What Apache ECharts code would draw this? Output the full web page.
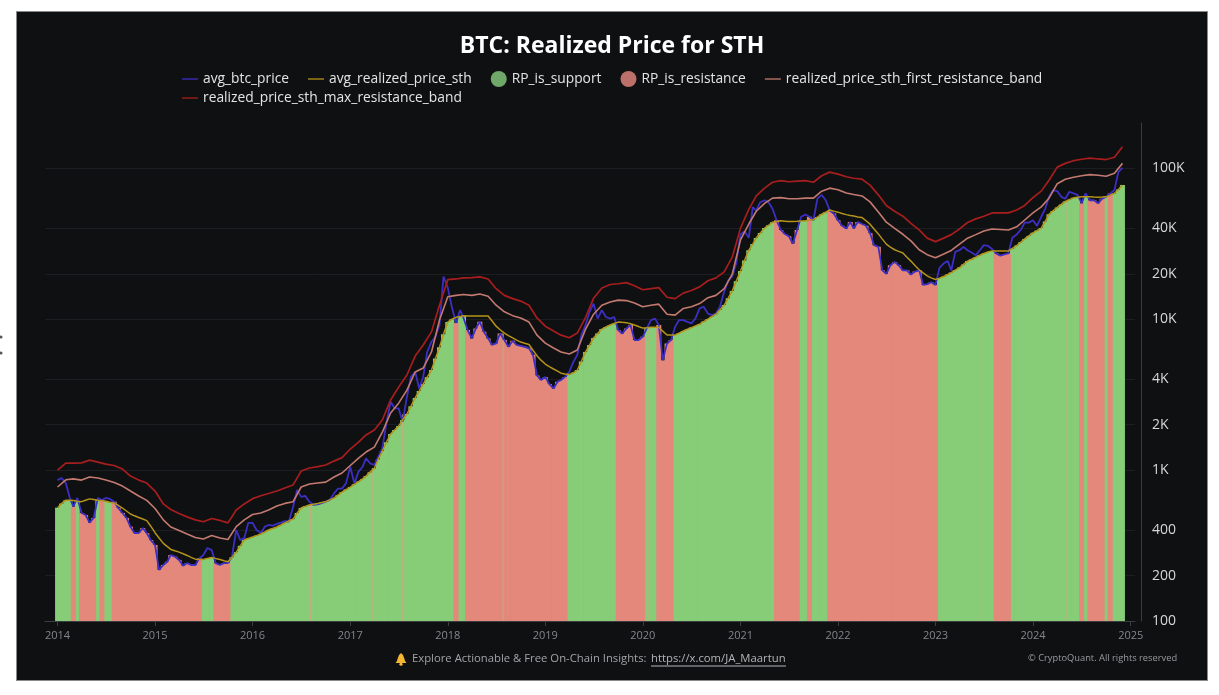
<!DOCTYPE html>
<html>
<head>
<meta charset="utf-8">
<title>BTC: Realized Price for STH</title>
<script src="https://cdn.jsdelivr.net/npm/echarts@6/dist/echarts.min.js"></script>
<style>
  html, body { margin: 0; padding: 0; background: #fff; overflow: hidden; }
  #panel { position: absolute; left: 16px; top: 11px; width: 1190px; height: 668px; background: #0f1012; border: 1px solid #8a8a8a; }
  #chart { position: absolute; left: 0; top: 0; width: 1219px; height: 695px; }
</style>
</head>
<body>
<div id="panel"></div>
<div id="chart"></div>
<script type="text/javascript">
  // one value per half month, 1st and 16th, starting 2014-01-01
  var btcPrice = [
    859,887,821,654,572,654,520,504,449,482,
    654,634,654,644,618,561,520,482,422,383,
    383,413,383,344,319,218,235,247,274,267,
    254,232,242,235,235,260,274,305,295,242,
    235,242,242,267,401,344,354,447,447,401,
    383,422,433,428,440,449,459,456,572,738,
    665,675,618,588,594,604,618,634,701,755,
    755,817,1053,817,977,1053,1196,1110,1082,1228,
    1394,2040,2840,2570,2570,2090,3060,4150,4490,3480,
    4150,6070,7100,7650,9170,19200,16200,12100,9450,11500,
    10200,8490,7470,8700,9620,8270,7470,6760,6920,8050,
    7280,6570,7200,6760,6670,6570,6420,5810,4240,3960,
    4150,3720,3480,3850,3960,4150,4490,5200,5810,7850,
    9170,11200,12700,10100,11500,10350,10100,10350,8490,8050,
    8700,9170,7280,7280,7650,8700,9880,10100,9170,5350,
    6920,7280,8900,9880,9880,9620,9390,10100,11800,12100,
    10900,10650,10900,12100,15200,18100,19200,23500,36500,38400,
    34700,55300,52500,59700,61500,59700,54000,45300,39100,36800,
    35500,31800,39100,47800,49500,47800,45300,63000,66700,61500,
    52500,50300,45300,41700,40000,44100,40000,44100,42800,41700,
    37200,31000,30200,21100,20000,22800,24000,22800,21100,21100,
    19800,20700,21100,16900,17100,17600,16900,21900,23500,24300,
    21100,28000,28700,30200,28700,27700,26600,28700,31000,30700,
    29200,27300,26400,26900,27300,34700,36500,39100,43700,43700,
    45300,41600,47800,54000,64800,71800,70700,64800,63000,70000,
    68300,66700,58800,68300,61500,61500,58800,63000,64800,68300,
    71800,95000,101000
  ];
  var realizedPrice = [
    564,600,632,631,628,623,618,632,645,639,
    632,627,622,613,604,585,561,536,512,498,
    485,474,463,425,385,355,327,311,298,292,
    286,279,272,264,257,256,256,260,264,260,
    256,251,247,265,286,315,344,352,360,368,
    377,389,401,410,420,433,447,460,474,520,
    561,575,588,595,602,610,618,635,654,684,
    715,743,772,805,840,875,913,970,1030,1180,
    1337,1530,1735,1845,1960,2150,2355,2650,3010,3340,
    3720,4130,4610,5500,6530,7950,9580,10000,10300,10450,
    10570,10530,10500,10500,10500,10500,10500,9730,9000,8520,
    8100,7800,7520,7280,7060,6930,6800,6230,5730,5360,
    5050,4860,4680,4530,4390,4340,4300,4420,4610,5250,
    6080,6760,7520,8060,8610,8900,9170,9380,9580,9540,
    9500,9340,9170,8950,8740,8800,8870,8870,8870,8340,
    7860,7860,7860,8100,8360,8580,8810,9040,9280,9650,
    10030,10400,10800,11550,12430,13800,15370,17900,20870,24500,
    28700,31500,34600,37300,40200,42000,44000,44500,45000,44700,
    44400,44550,44700,44850,45000,45300,45700,47600,49700,51300,
    53000,52100,51300,50300,49400,48800,48300,47700,47200,45000,
    42700,39700,36800,34000,31500,30100,28900,28200,27500,25800,
    24300,22700,21300,20300,19400,18800,18350,18750,19200,19800,
    20400,21200,22000,23100,24300,25000,25800,26600,27300,27900,
    28400,28400,28400,28400,28400,29500,30800,32400,34100,35700,
    37400,38700,40200,44500,49700,52300,55100,57700,60400,62100,
    63800,64400,65000,65000,65000,64700,64500,64600,64800,66300,
    68300,72500,77500
  ];
  // bands are read once a month, on the 1st
  var firstBand = [
    773,863,875,859,900,886,859,827,784,727,674,630,
    557,468,420,398,377,358,350,369,355,347,422,468,
    508,520,544,579,602,618,773,809,821,833,900,957,
    1073,1202,1318,1422,1785,2390,2780,3395,4470,4750,6070,9880,
    14100,14400,14600,14400,14700,14200,12400,11200,10570,10200,9580,7850,
    6950,6450,6070,5890,6250,8610,10800,12400,13000,13400,13300,12800,
    12100,12400,12600,10800,10650,11800,12100,12700,13900,14400,15950,19900,
    33600,42800,52000,58600,63500,64000,62900,62900,63500,63500,70700,74000,
    72300,68800,67200,65700,60000,51500,44000,40100,36600,33100,28900,26800,
    25600,27100,28600,31500,34500,36400,38500,39700,39400,39100,41000,45500,
    50700,55600,63500,79200,84800,87400,89400,91000,90100,88800,92900,108000
  ];
  var maxBand = [
    1000,1113,1113,1118,1165,1130,1097,1073,1017,914,859,821,
    727,597,548,516,490,468,455,478,464,447,544,597,
    647,677,700,727,761,798,986,1033,1056,1082,1148,1210,
    1380,1535,1710,1845,2150,2920,3550,4270,5700,6760,8250,12400,
    18300,18500,18800,18900,19100,18500,15950,14400,13700,13200,12400,10200,
    9000,8360,7850,7540,8100,10300,13800,16100,17000,17200,17500,16700,
    15700,15950,16200,14000,13700,14900,15500,16400,18000,18800,20600,25800,
    40200,53500,65700,74000,81000,83000,81600,82300,83000,81000,89400,94500,
    91600,88100,86100,84800,77500,66800,56800,52000,48200,43200,39100,34500,
    32700,34500,36400,39700,43800,46300,48200,50700,50700,50700,53000,56800,
    64000,70700,83500,102000,108000,112500,115000,117000,115500,114500,118500,139000
  ];
  // first and last half month where the price sits under the realized price
  var resistanceSpans = [
    ['2014-03-01','2014-03-01'], ['2014-04-01','2014-05-16'], ['2014-06-16','2014-06-16'],
    ['2014-08-01','2015-06-16'], ['2015-08-16','2015-10-01'], ['2018-02-01','2018-02-01'],
    ['2018-03-16','2019-03-16'], ['2019-10-01','2020-01-01'], ['2020-03-01','2020-04-16'],
    ['2021-05-16','2021-08-01'], ['2021-09-16','2021-09-16'], ['2021-12-01','2023-01-01'],
    ['2023-08-16','2023-10-01'], ['2024-07-01','2024-07-01'], ['2024-08-01','2024-09-16'],
    ['2024-10-16','2024-10-16']
  ];
  // single day flips that show as hairlines inside a long run
  var hairlineDates = ['2016-08-13','2017-04-03','2017-07-24','2020-01-28','2023-06-23','2024-05-11'];
  var hairlineValues = [588,1030,2350,8740,25800,60400];
  var greenHairlineDates = ['2018-08-04'];
  var greenHairlineValues = [8050];

  var yTicks = [100,200,400,1000,2000,4000,10000,20000,40000,100000];
  var xYears = [2014,2015,2016,2017,2018,2019,2020,2021,2022,2023,2024,2025];

  function pad(n) { return n < 10 ? '0' + n : '' + n; }

  function toTime(dateString) {
    var parts = dateString.split('-');
    return new Date(+parts[0], +parts[1] - 1, +parts[2]).getTime();
  }

  var halfMonths = [];
  var monthStarts = [];
  for (var i = 0; i < btcPrice.length; i++) {
    var m = Math.floor(i / 2);
    var dateString = (2014 + Math.floor(m / 12)) + '-' + pad(m % 12 + 1) + '-' + (i % 2 ? '16' : '01');
    halfMonths.push(dateString);
    if (i % 2 == 0) monthStarts.push(dateString);
  }

  function isResistance(dateString) {
    for (var s = 0; s < resistanceSpans.length; s++) {
      if (dateString >= resistanceSpans[s][0] && dateString <= resistanceSpans[s][1]) return true;
    }
    return false;
  }

  function pairs(dates, values) {
    return values.map(function (v, idx) { return [toTime(dates[idx]), v]; });
  }

  var supportBars = [];
  var resistanceBars = [];
  for (var k = 0; k < halfMonths.length; k++) {
    if (isResistance(halfMonths[k])) {
      resistanceBars.push([toTime(halfMonths[k]), btcPrice[k]]);
    } else {
      supportBars.push([toTime(halfMonths[k]), realizedPrice[k]]);
    }
  }

  var yearTicks = xYears.map(function (y) { return new Date(y, 0, 1).getTime(); });
  var fontName = '"Open Sans", "Noto Sans", sans-serif';
  var legendText = { color: '#e4e4e4', fontSize: 13.8, fontFamily: fontName };
  // thin dash for the line entries, the default line icon puts a dot on it
  var dashIcon = 'path://M0 0H16V1.3H0Z';

  var myChart = echarts.init(document.getElementById('chart'), null, { renderer: 'canvas' });

  function lineSeries(name, dates, values, color, width) {
    return {
      name: name,
      type: 'line',
      data: pairs(dates, values),
      symbol: 'none',
      z: 4,
      lineStyle: { color: color, width: width },
      itemStyle: { color: color }
    };
  }

  var option = {
    animation: false,
    title: {
      text: 'BTC: Realized Price for STH',
      left: 607,
      top: 30,
      textAlign: 'center',
      textStyle: { color: '#ffffff', fontSize: 23, fontWeight: 'bold', fontFamily: fontName }
    },
    legend: [
      {
        left: 177, top: 66, itemWidth: 16, itemHeight: 16, itemGap: 19,
        textStyle: legendText,
        data: [
          { name: 'avg_btc_price', icon: dashIcon },
          { name: 'avg_realized_price_sth', icon: dashIcon },
          { name: 'RP_is_support', icon: 'circle', itemStyle: { color: '#6fa868' } },
          { name: 'RP_is_resistance', icon: 'circle', itemStyle: { color: '#bd6f69' } },
          { name: 'realized_price_sth_first_resistance_band', icon: dashIcon }
        ]
      },
      {
        left: 177, top: 86, itemWidth: 16, itemHeight: 16, itemGap: 19,
        textStyle: legendText,
        data: [{ name: 'realized_price_sth_max_resistance_band', icon: dashIcon }]
      }
    ],
    grid: { left: 45, right: 84, top: 123, bottom: 74 },
    xAxis: {
      type: 'value',
      min: toTime('2013-11-15'),
      max: toTime('2025-01-17'),
      axisLine: { lineStyle: { color: '#3c3d40', width: 1 } },
      axisTick: { length: 5, lineStyle: { color: '#3c3d40' }, customValues: yearTicks },
      axisLabel: {
        color: '#85868a',
        fontSize: 11,
        fontFamily: fontName,
        margin: 9,
        customValues: yearTicks,
        formatter: function (value) { return '' + new Date(value).getFullYear(); }
      },
      splitLine: { show: false }
    },
    yAxis: {
      type: 'log',
      logBase: 10,
      min: 100,
      max: 200000,
      position: 'right',
      offset: 6,
      axisLine: { show: true, lineStyle: { color: '#3c3d40', width: 1 } },
      axisTick: { show: false, customValues: yTicks },
      minorTick: { show: false },
      axisLabel: {
        color: '#d8d8d8',
        fontSize: 14,
        fontFamily: fontName,
        margin: 11,
        customValues: yTicks,
        formatter: function (value) {
          var v = Math.round(value);
          return v >= 1000 ? (v / 1000) + 'K' : '' + v;
        }
      },
      splitLine: { show: true, lineStyle: { color: '#1d1e21', width: 1 } }
    },
    series: [
      {
        name: 'hairlines', type: 'bar', barWidth: 1, barGap: '-100%', z: 3,
        data: pairs(hairlineDates, hairlineValues),
        itemStyle: { color: '#c9a884' }
      },
      {
        name: 'green hairlines', type: 'bar', barWidth: 1, barGap: '-100%', z: 3,
        data: pairs(greenHairlineDates, greenHairlineValues),
        itemStyle: { color: '#a9b87a' }
      },
      {
        name: 'RP_is_support', type: 'bar', barWidth: 5, barGap: '-100%', z: 2,
        data: supportBars,
        itemStyle: { color: '#87cd78' }
      },
      {
        name: 'RP_is_resistance', type: 'bar', barWidth: 5, barGap: '-100%', z: 2,
        data: resistanceBars,
        itemStyle: { color: '#e4887b' }
      },
      lineSeries('avg_btc_price', halfMonths, btcPrice, '#3c2fc4', 1.8),
      lineSeries('avg_realized_price_sth', halfMonths, realizedPrice, '#b4941a', 1.5),
      lineSeries('realized_price_sth_first_resistance_band', monthStarts, firstBand, '#c47a70', 1.6),
      lineSeries('realized_price_sth_max_resistance_band', monthStarts, maxBand, '#a81e1e', 1.7)
    ],
    graphic: [
      {
        type: 'polygon',
        shape: { points: [[401,653],[403,655],[404.5,659],[405,661],[406.5,663],[395.5,663],[397,661],[397.5,659],[399,655]] },
        style: { fill: '#f2b632' }
      },
      { type: 'circle', shape: { cx: 401, cy: 664.2, r: 1.6 }, style: { fill: '#f2b632' } },
      {
        type: 'text', x: 412, y: 653,
        style: { text: 'Explore Actionable & Free On-Chain Insights:', fill: '#a2a3a6', font: '11.3px ' + fontName }
      },
      {
        type: 'text', x: 651, y: 653,
        style: { text: 'https://x.com/JA_Maartun', fill: '#b4b5b8', font: '11.3px ' + fontName }
      },
      {
        type: 'line', shape: { x1: 651, y1: 666, x2: 786, y2: 666 },
        style: { stroke: '#b4b5b8', lineWidth: 1 }
      },
      {
        type: 'text', x: 1028, y: 654,
        style: { text: '© CryptoQuant. All rights reserved', fill: '#9a9b9e', font: '9.3px ' + fontName }
      },
      { type: 'circle', shape: { cx: 1, cy: 337, r: 1.5 }, style: { fill: '#555' } },
      { type: 'circle', shape: { cx: 1, cy: 353, r: 1.5 }, style: { fill: '#555' } }
    ]
  };
  myChart.setOption(option);
</script>
</body>
</html>
